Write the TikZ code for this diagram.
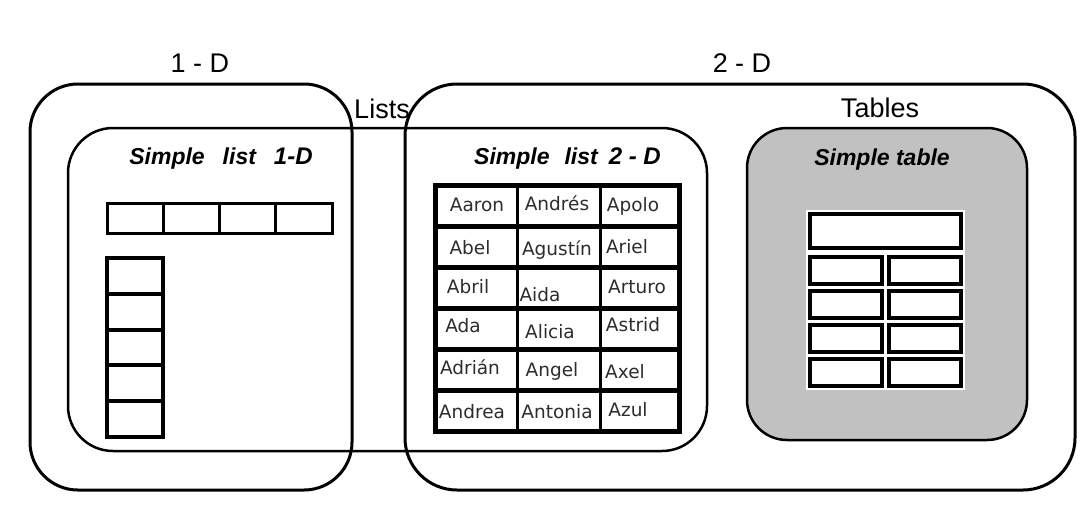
\documentclass[tikz,border=0pt]{standalone}
\usepackage{fontspec}
\setmainfont{Liberation Sans}
\newfontfamily\namefont{DejaVu Sans}
\definecolor{panelgrey}{RGB}{193,193,193}
\definecolor{nametext}{RGB}{45,45,45}
\newcommand{\dimlabel}[1]{{\fontsize{24}{28}\selectfont #1}}
\begin{document}
\begin{tikzpicture}[x=1pt,y=-1pt,
  region/.style={draw, line width=3pt, inner sep=0pt, outer sep=0pt},
  heading/.style={inner sep=0pt, font=\fontsize{27}{32}\selectfont},
  caption/.style={inner sep=0pt, font=\fontsize{23}{27}\selectfont\bfseries\itshape},
  slot/.style={draw, line width=3pt, fill=white, inner sep=0pt, outer sep=0pt},
  entry/.style={inner sep=0pt, anchor=base, text=nametext, font=\namefont\fontsize{18.5}{22}\selectfont}]
\path[use as bounding box, fill=white] (0,0) rectangle (1081,507);

% nested regions
\node[region, rounded corners=48pt, minimum width=322pt, minimum height=406pt] (oned) at (191,287) {};
\node[region, rounded corners=52pt, minimum width=670pt, minimum height=406pt] (twod) at (740,287) {};
\node[region, line width=2.5pt, rounded corners=45pt, minimum width=639pt, minimum height=323pt] (lists) at (387.5,289.5) {};
\node[region, line width=2.5pt, fill=panelgrey, rounded corners=40pt, minimum width=280pt, minimum height=312pt] (tables) at (887,284) {};

% region titles
\node[heading] (lab1d) at (200,63) {1 - D};
\node[heading] (lab2d) at (742,63) {2 - D};
\node[heading] (labLists) at (382,108.5) {Lists};
\node[heading] (labTables) at (880,108) {Tables};

\node[caption] (cap1) at (221,159) {Simple\hspace{18pt}list\hspace{18pt}\dimlabel{1-D}};
\node[caption] (cap2) at (567.5,159) {Simple\hspace{15pt}list\hspace{11pt}\dimlabel{2 - D}};
\node[caption] (cap3) at (882,160) {Simple table};

% one-dimensional list: a row and a column of slots
\foreach \i in {0,...,3}
  \node[slot, minimum width=56.25pt, minimum height=30pt] (row\i) at ({107+56.25*\i+28.125},218) {};
\foreach \i in {0,...,4}
  \node[slot, line width=4pt, minimum width=56pt, minimum height=35.8pt] (col\i) at (135,{258+35.8*\i+17.9}) {};

% two-dimensional list of names
\foreach \r in {1,...,6}
  \foreach \c/\xl/\w in {1/435/82, 2/517/83, 3/600/79}
    \node[slot, minimum width=\w pt, minimum height=41pt] (c\r\c) at ({\xl+\w/2},{185+41*(\r-1)+20.5}) {};
\foreach \r in {1,...,5}
  \draw[line width=5pt] (c\r1.south west) -- (c\r3.south east);
\draw[line width=5pt] (c11.north west) rectangle (c63.south east);

\foreach \x/\y/\t in {477/205/Aaron, 557/204/Andrés, 633/205/Apolo,
                      470/248/Abel, 557/249/Agustín, 627/247/Ariel,
                      468/287/Abril, 540/295/Aida, 637/287/Arturo,
                      463/326/Ada, 550/332/Alicia, 633/325/Astrid,
                      470/368/Adrián, 552/370/Angel, 625/372/Axel,
                      472/412/Andrea, 557/412/Antonia, 628/410/Azul}
  \node[entry] at (\x,{\y+6.5}) {\t};

% simple table layout
\node[fill=white, inner sep=0pt, minimum width=159pt, minimum height=180pt] (tgrid) at (885.5,300) {};
\node[slot, line width=3.5pt, minimum width=151pt, minimum height=34pt] (thead) at (885.5,231) {};
\foreach \i in {0,...,3} {
  \node[slot, line width=3.5pt, minimum width=72pt, minimum height=27pt] (tl\i) at (846,{257+34*\i+13.5}) {};
  \node[slot, line width=3.5pt, minimum width=72pt, minimum height=27pt] (tr\i) at (925,{257+34*\i+13.5}) {};
}
\end{tikzpicture}
\end{document}
